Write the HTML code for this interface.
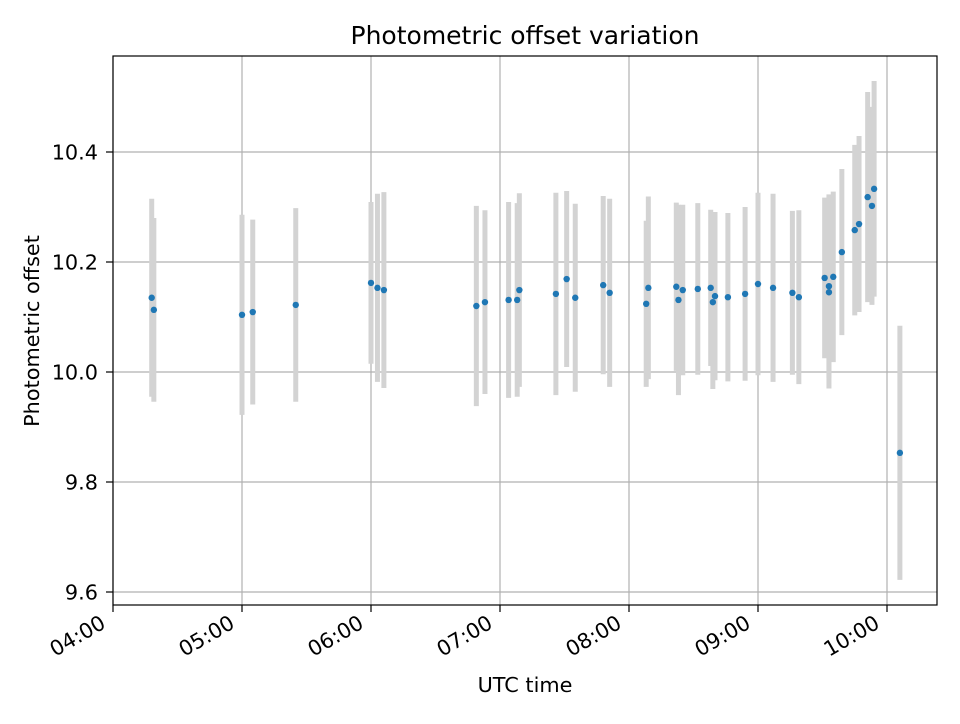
<!DOCTYPE html>
<html><head><meta charset="utf-8"><style>
body{margin:0;background:#fff;font-family:"DejaVu Sans","Liberation Sans",sans-serif}
svg text{font-family:"DejaVu Sans","Liberation Sans",sans-serif;fill:#000}
</style></head><body>
<svg id="chart" width="960" height="720" xmlns="http://www.w3.org/2000/svg">
<rect width="960" height="720" fill="#fff"/>
<g id="grid"></g><g id="bars"></g><g id="pts"></g><g id="axes"></g>
<text x="525" y="44" font-size="25" text-anchor="middle">Photometric offset variation</text>
<text x="525" y="692" font-size="20.8" text-anchor="middle">UTC time</text>
<text transform="translate(39,331) rotate(-90)" font-size="20.8" text-anchor="middle">Photometric offset</text>
</svg>
<script>
const times=["04:18","04:19","05:00","05:05","05:25","06:00","06:03","06:06","06:49","06:53","07:04","07:08","07:09","07:26","07:31","07:35","07:48","07:51","08:08","08:09","08:22","08:23","08:25","08:32","08:38","08:39","08:40","08:46","08:54","09:00","09:07","09:16","09:19","09:31","09:33","09:33","09:35","09:39","09:45","09:47","09:51","09:54","09:53","10:06"];
const values=[10.135,10.113,10.104,10.109,10.122,10.162,10.153,10.149,10.120,10.127,10.131,10.131,10.149,10.142,10.169,10.135,10.158,10.144,10.124,10.153,10.155,10.131,10.149,10.151,10.153,10.127,10.138,10.136,10.142,10.160,10.153,10.144,10.136,10.171,10.156,10.145,10.173,10.218,10.258,10.269,10.318,10.333,10.302,9.853];
const errors=[0.18,0.167,0.182,0.168,0.176,0.147,0.171,0.178,0.182,0.167,0.178,0.176,0.176,0.184,0.160,0.171,0.162,0.171,0.151,0.166,0.153,0.173,0.155,0.156,0.142,0.158,0.153,0.153,0.158,0.166,0.171,0.149,0.158,0.146,0.167,0.175,0.155,0.151,0.155,0.160,0.191,0.196,0.18,0.231];
const xTicks=["04:00","05:00","06:00","07:00","08:00","09:00","10:00"];
const yTicks=[9.6,9.8,10.0,10.2,10.4];
const L=113,R=937,T=56,B=605;
const toH=s=>{const [h,m]=s.split(":").map(Number);return h+m/60;};
const xs=h=>L+(h-4)*129;
const ys=v=>152+(10.4-v)*550;
const NS="http://www.w3.org/2000/svg";
function mk(tag,attrs,parent){const e=document.createElementNS(NS,tag);for(const k in attrs)e.setAttribute(k,attrs[k]);parent.appendChild(e);return e;}
const grid=document.getElementById('grid'),bars=document.getElementById('bars'),pts=document.getElementById('pts'),axes=document.getElementById('axes');
xTicks.forEach(t=>{const x=xs(toH(t));
 const g=mk('line',{x1:x,x2:x,y1:T,y2:B,stroke:'#b0b0b0','stroke-width':1.2},grid);
 
 
 mk('line',{x1:x,x2:x,y1:B,y2:B+7,stroke:'#000','stroke-width':1.2},axes);
 const ax=x-6,ay=B+22;
 const tx=mk('text',{x:ax,y:ay,'font-size':20.8,'text-anchor':'end',transform:`rotate(-30 ${ax} ${ay})`},axes);
 tx.textContent=t;
 
 
});
yTicks.forEach(v=>{const y=ys(v);
 const g=mk('line',{x1:L,x2:R,y1:y,y2:y,stroke:'#b0b0b0','stroke-width':1.2},grid);
 
 
 mk('line',{x1:L-7,x2:L,y1:y,y2:y,stroke:'#000','stroke-width':1.2},axes);
 const tx=mk('text',{x:L-15,y:y+7.5,'font-size':20.8,'text-anchor':'end'},axes);
 tx.textContent=v.toFixed(1);
 
 
});
const frame=mk('rect',{x:L,y:T,width:R-L,height:B-T,fill:'none',stroke:'#000','stroke-width':1.2},axes);


times.forEach((t,i)=>{const x=xs(toH(t));
 const b=mk('line',{x1:x,x2:x,y1:ys(values[i]+errors[i]),y2:ys(values[i]-errors[i]),stroke:'#d3d3d3','stroke-width':5},bars);
 
 
 const c=mk('circle',{cx:x,cy:ys(values[i]),r:3.2,fill:'#1f77b4'},pts);
 
 
});
</script>
</body></html>
